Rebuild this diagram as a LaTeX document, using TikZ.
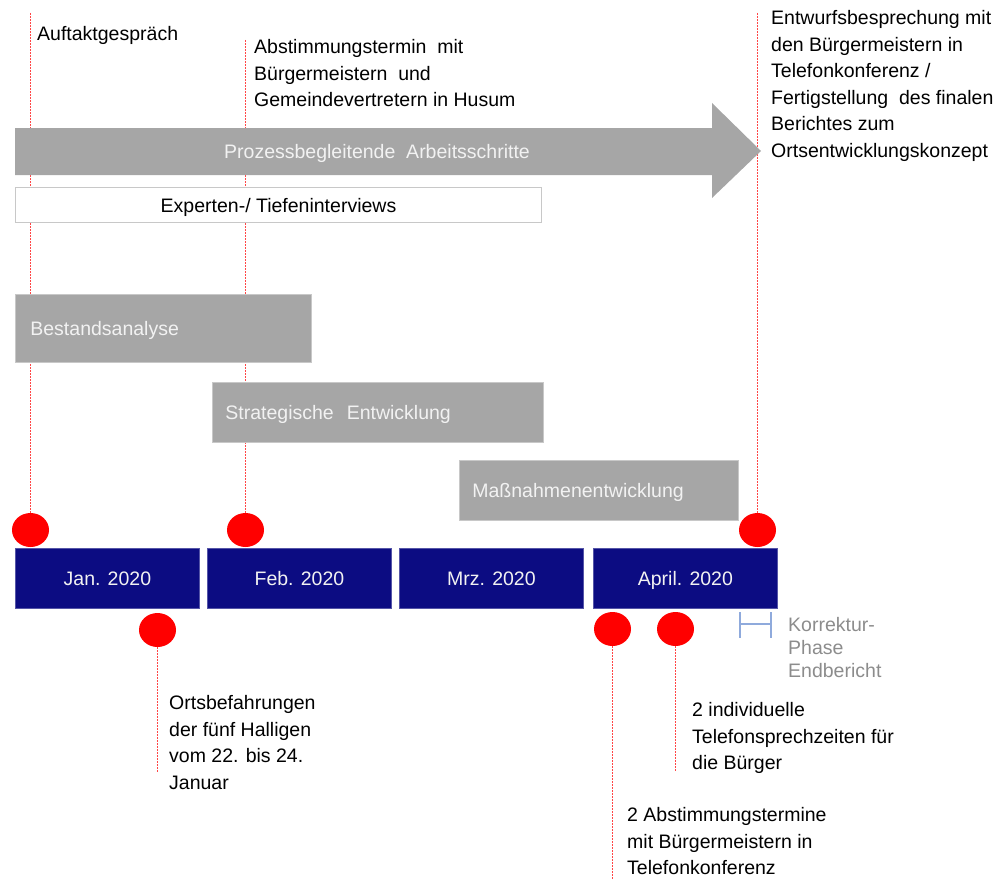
\documentclass[tikz,border=0pt]{standalone}
\usepackage{fontspec}
\setmainfont{Liberation Sans}
\usetikzlibrary{shapes.geometric,backgrounds}
\definecolor{navy}{RGB}{12,12,130}
\definecolor{boxgrey}{RGB}{166,166,166}
\definecolor{edgegrey}{RGB}{200,200,200}
\definecolor{bluebr}{RGB}{143,170,220}
\definecolor{korr}{RGB}{140,140,140}
\definecolor{soft}{RGB}{242,242,242}
\definecolor{linered}{RGB}{255,70,70}
\tikzset{
  every node/.style={font=\fontsize{19.5}{26.5}\selectfont},
  label/.style={anchor=north west, inner sep=0pt, align=left, text=black},
  boxtext/.style={text height=19pt, text depth=4pt},
  gbox/.style={anchor=north west, fill=boxgrey, draw=edgegrey, line width=0.8pt, text=soft, align=left, inner ysep=0pt, boxtext},
  monthbox/.style={anchor=north west, fill=navy, draw=navy!70!white, line width=0.8pt, text=soft, minimum width=184pt, minimum height=60pt, inner sep=0pt, boxtext},
  dot/.style={ellipse, fill=red, draw=none, minimum width=37pt, minimum height=34pt, inner sep=0pt},
  redline/.style={draw=linered, line width=1pt, dash pattern=on 2pt off 1pt},
  bracket/.style={draw=bluebr, line width=1.1pt}
}
\begin{document}
\begin{tikzpicture}[x=1pt,y=-1pt]
\useasboundingbox (0,0) rectangle (1000,880);
% process arrow
\fill[boxgrey] (15,128) -- (712,128) -- (712,103) -- (761,151) -- (712,198) -- (712,175) -- (15,175) -- cycle;
\node[text=soft, inner sep=0pt, boxtext] (proc) at (377,151) {Prozessbegleitende\ \ Arbeitsschritte};
% interviews
\node[anchor=north west, draw=edgegrey, fill=white, line width=1pt, minimum width=526pt, minimum height=35pt, inner sep=0pt, boxtext] (exp) at (15,187) {Experten-/ Tiefeninterviews};
% phase boxes
\node[gbox, text width=266pt, minimum height=68pt, inner xsep=15pt] (best) at (15,294) {Bestandsanalyse};
\node[gbox, text width=305pt, minimum height=60pt, inner xsep=13pt] (strat) at (212,382) {Strategische\ \ Entwicklung};
\node[gbox, text width=253pt, minimum height=60pt, inner xsep=13pt] (mass) at (459,460) {Maßnahmenentwicklung};
% months
\node[monthbox] (jan) at (15,548) {Jan. 2020};
\node[monthbox] (feb) at (207,548) {Feb. 2020};
\node[monthbox] (mrz) at (399,548) {Mrz. 2020};
\node[monthbox] (apr) at (593,548) {April. 2020};
% dots
\node[dot] (c1) at (30.5,530) {};
\node[dot] (c2) at (245.5,530) {};
\node[dot] (c3) at (757.5,530) {};
\node[dot] (c4) at (157.5,630) {};
\node[dot] (c5) at (612.5,629) {};
\node[dot] (c6) at (675.5,629) {};
% line end points
\coordinate (t1) at (30.5,13);
\coordinate (t2) at (245.5,40);
\coordinate (t3) at (757.5,13);
\coordinate (b4) at (157.5,772);
\coordinate (b5) at (612.5,880);
\coordinate (b6) at (675.5,772);
\begin{scope}[on background layer]
\draw[redline] (t1) -- (c1.north);
\draw[redline] (t2) -- (c2.north);
\draw[redline] (t3) -- (c3.north);
\draw[redline] (c4.south) -- (b4);
\draw[redline] (c5.south) -- (b5);
\draw[redline] (c6.south) -- (b6);
\end{scope}
% labels
\node[label] (auf) at (37,26.5) {Auftaktgespräch};
\node[label] (abst) at (254,39.5) {Abstimmungstermin\ \ mit\\Bürgermeistern\ \ und\\Gemeindevertretern in Husum};
\node[label] (entw) at (771,10.5) {Entwurfsbesprechung mit\\den Bürgermeistern in\\Telefonkonferenz /\\Fertigstellung\ \ des finalen\\Berichtes zum\\Ortsentwicklungskonzept};
\node[label] (orts) at (169,695.5) {Ortsbefahrungen\\der fünf Halligen\\vom 22. bis 24.\\Januar};
\node[label] (indiv) at (692,702.5) {2 individuelle\\Telefonsprechzeiten für\\die Bürger};
\node[label] (abst2) at (627,807.5) {2 Abstimmungstermine\\mit Bürgermeistern in\\Telefonkonferenz};
\node[label, text=korr, font=\fontsize{19.5}{23}\selectfont] (korrtxt) at (788,617.5) {Korrektur-\\Phase\\Endbericht};
% correction bracket
\coordinate (k1) at (740,612);
\coordinate (k2) at (740,638);
\coordinate (k3) at (771,612);
\coordinate (k4) at (771,638);
\draw[bracket] (k1) -- (k2);
\draw[bracket] (k3) -- (k4);
\draw[bracket] (740,624) -- (771,624);
\end{tikzpicture}
\end{document}
